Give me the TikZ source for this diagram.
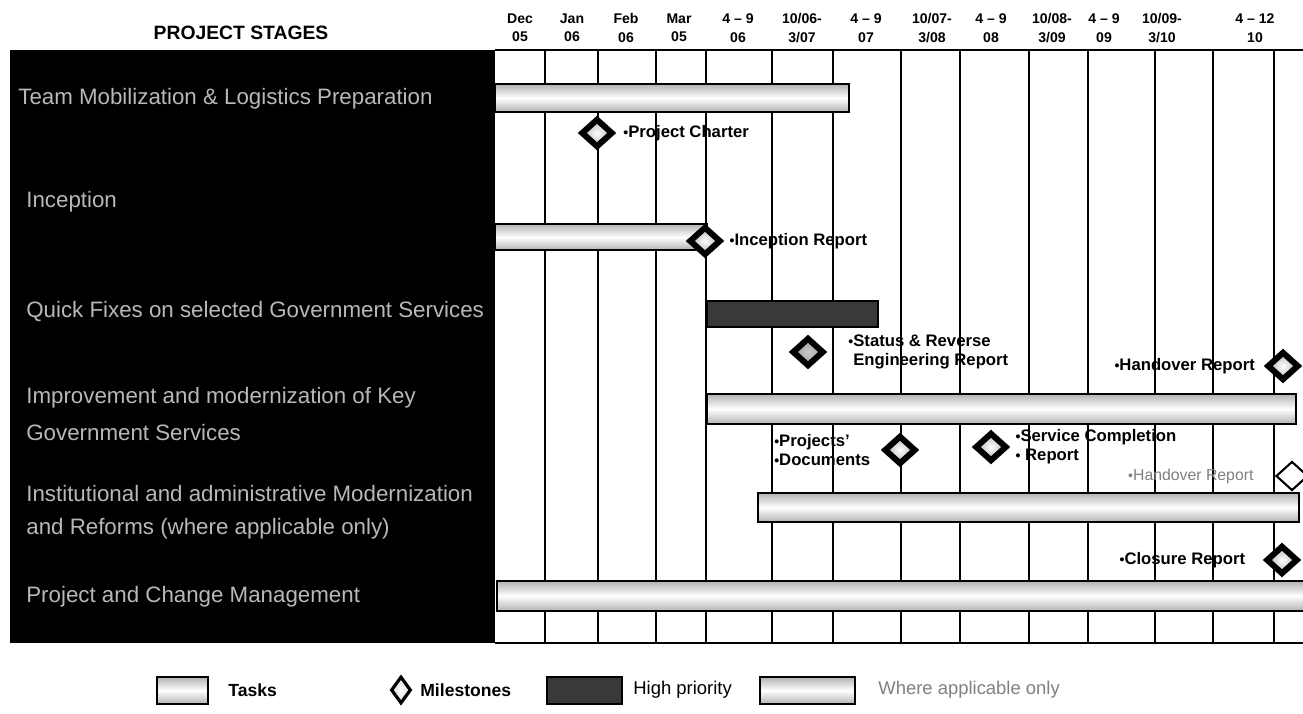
\documentclass[tikz,border=0pt]{standalone}
\usepackage{fontspec}
\setmainfont{Liberation Sans}
\usetikzlibrary{shapes.geometric, positioning}
\newcommand{\msbul}{{\fontsize{8}{8}\selectfont\textbullet}}

\begin{document}
\begin{tikzpicture}[
        x=0.02cm, y=-0.02cm,
        bar/.style={draw=black, line width=1.6pt, top color=gray!60, bottom color=gray!60, middle color=white},
        hibar/.style={draw=black, line width=1.6pt, fill=gray!45!black},
        milestone/.style={diamond, draw=black, line width=3.4pt, inner sep=0pt, minimum width=0.64cm, minimum height=0.58cm, inner color=white, outer color=gray!60},
        mslabel/.style={font=\bfseries\fontsize{9.5}{11}\selectfont, align=left, inner sep=0pt},
        stage/.style={font=\fontsize{12.7}{14}\selectfont, text=white!72!black, anchor=west, inner sep=0pt},
        colhead/.style={font=\bfseries\fontsize{8}{10.5}\selectfont, align=center, inner sep=0pt},
        legend/.style={font=\bfseries\fontsize{10}{12}\selectfont, anchor=west, inner sep=0pt}
    ]
    \useasboundingbox (0,0) rectangle (1303,714);

    % stage panel and title
    \fill[black] (10,50) rectangle (495,643);
    \node[font=\bfseries\fontsize{11}{13}\selectfont] (title) at (241,33) {PROJECT STAGES};

    \node[stage] (team) at (18,99) {Team Mobilization \& Logistics Preparation};
    \node[stage] (incep) at (26,202) {Inception};
    \node[stage] (quick) at (26,312) {Quick Fixes on selected Government Services};
    \node[stage] (improve) at (26,398) {Improvement and modernization of Key};
    \node[stage] (improvetwo) at (26,433) {Government Services};
    \node[stage] (inst) at (26,494) {Institutional and administrative Modernization};
    \node[stage] (insttwo) at (26,529) {and Reforms (where applicable only)};
    \node[stage] (pcm) at (26,597) {Project and Change Management};

    % time grid
    \draw[line width=0.8pt] (495,50) -- (1303,50);
    \draw[line width=0.8pt] (495,643) -- (1303,643);
    \foreach \gx in {545,598,656,706,772,833,901,960,1029,1088,1155,1213,1274}
        \draw[line width=0.8pt] (\gx,50) -- (\gx,643);

    \foreach \cx/\ta/\tb [count=\i] in {520/Dec/05, 572/Jan/06, 626/Feb/06, 679/Mar/05,
            738/4 -- 9/06, 802/{10/06-}/{3/07}, 866/4 -- 9/07, 932/{10/07-}/{3/08},
            991/4 -- 9/08, 1052/{10/08-}/{3/09}, 1104/4 -- 9/09, 1162/{10/09-}/{3/10}, 1255/4 -- 12/10}
        \node[colhead] (hd\i) at (\cx,28) {\ta\\\tb};

    % bars
    \draw[bar] (495,84) rectangle (849,112);
    \draw[bar] (495,224) rectangle (707,250);
    \draw[hibar] (707,301) rectangle (878,327);
    \draw[bar] (707,394) rectangle (1296,424);
    \draw[bar] (758,493) rectangle (1299,522);
    \draw[bar] (497,581) rectangle (1312,611);

    % milestones
    \node[milestone] (charter) at (597,133) {};
    \node[mslabel, right=4pt of charter] (charterlbl) {\msbul Project Charter};
    \node[milestone] (increp) at (705,241) {};
    \node[mslabel, right=3pt of increp] (increplbl) {\msbul Inception Report};
    \node[milestone, outer color=gray!80, inner color=gray!40] (status) at (808,352) {};
    \node[mslabel, right=12pt of status] (statuslbl) {\msbul Status \& Reverse\\\phantom{\msbul}Engineering Report};
    \node[milestone] (handover) at (1283,366) {};
    \node[mslabel, left=5pt of handover] (handoverlbl) {\msbul Handover Report};
    \node[milestone] (projdocs) at (900,450) {};
    \node[mslabel, left=6pt of projdocs] (projdocslbl) {\msbul Projects'\\\msbul Documents};
    \node[milestone] (service) at (991,447) {};
    \node[mslabel, right=3pt of service] (servicelbl) {\msbul Service Completion\\\msbul\ Report};
    \node[milestone, line width=1.2pt, outer color=white] (handovertwo) at (1292,476) {};
    \node[mslabel, font=\fontsize{9}{11}\selectfont, text=gray, left=12pt of handovertwo] (handovertwolbl) {\msbul Handover Report};
    \node[milestone] (closure) at (1282,560) {};
    \node[mslabel, left=10pt of closure] (closurelbl) {\msbul Closure Report};

    % legend
    \draw[bar, line width=0.8pt] (157,677) rectangle (208,704);
    \node[legend] (legtasks) at (228,690) {Tasks};
    \node[milestone, line width=1.8pt, minimum width=0.4cm, minimum height=0.54cm, outer color=gray!30] (legms) at (401,690) {};
    \node[legend] (legmstext) at (420,690) {Milestones};
    \draw[hibar, line width=0.8pt] (547,677) rectangle (622,704);
    \node[legend, font=\fontsize{10.5}{12}\selectfont] (leghigh) at (633,690) {High priority};
    \draw[bar, line width=0.8pt] (760,677) rectangle (855,704);
    \node[legend, font=\fontsize{10.5}{12}\selectfont, text=gray] (legwhere) at (878,690) {Where applicable only};
\end{tikzpicture}
\end{document}
